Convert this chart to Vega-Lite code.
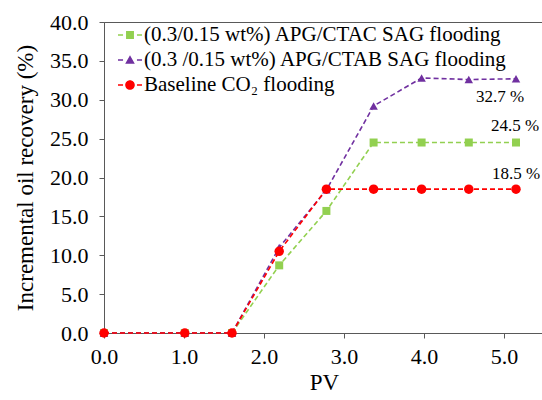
{
  "$schema": "https://vega.github.io/schema/vega-lite/v6.json",
  "width": 440,
  "height": 311,
  "autosize": {"type": "none"},
  "padding": {"left": 104, "top": 22, "right": 0, "bottom": 67},
  "config": {
    "font": "Liberation Serif",
    "view": {"stroke": "#595959", "strokeWidth": 1},
    "axis": {
      "grid": false,
      "domainColor": "#595959",
      "tickColor": "#595959",
      "labelColor": "#000000",
      "titleColor": "#000000",
      "labelFont": "Liberation Serif",
      "titleFont": "Liberation Serif",
      "labelFontSize": 22,
      "titleFontSize": 23,
      "titleFontWeight": "normal",
      "tickSize": 5,
      "labelFlush": false,
      "labelOverlap": false
    },
    "legend": {
      "labelFont": "Liberation Serif",
      "labelFontSize": 21,
      "labelColor": "#000000",
      "labelLimit": 0
    }
  },
  "data": {
    "values": [
      {"series": "(0.3/0.15 wt%) APG/CTAC SAG flooding", "pv": 0, "rec": 0},
      {"series": "(0.3/0.15 wt%) APG/CTAC SAG flooding", "pv": 1.01, "rec": 0},
      {"series": "(0.3/0.15 wt%) APG/CTAC SAG flooding", "pv": 1.6, "rec": 0},
      {"series": "(0.3/0.15 wt%) APG/CTAC SAG flooding", "pv": 2.19, "rec": 8.7},
      {"series": "(0.3/0.15 wt%) APG/CTAC SAG flooding", "pv": 2.78, "rec": 15.7},
      {"series": "(0.3/0.15 wt%) APG/CTAC SAG flooding", "pv": 3.37, "rec": 24.5},
      {"series": "(0.3/0.15 wt%) APG/CTAC SAG flooding", "pv": 3.97, "rec": 24.5},
      {"series": "(0.3/0.15 wt%) APG/CTAC SAG flooding", "pv": 4.56, "rec": 24.5},
      {"series": "(0.3/0.15 wt%) APG/CTAC SAG flooding", "pv": 5.15, "rec": 24.5},
      {"series": "(0.3 /0.15 wt%) APG/CTAB SAG flooding", "pv": 0, "rec": 0},
      {"series": "(0.3 /0.15 wt%) APG/CTAB SAG flooding", "pv": 1.01, "rec": 0},
      {"series": "(0.3 /0.15 wt%) APG/CTAB SAG flooding", "pv": 1.6, "rec": 0},
      {"series": "(0.3 /0.15 wt%) APG/CTAB SAG flooding", "pv": 2.19, "rec": 11.0},
      {"series": "(0.3 /0.15 wt%) APG/CTAB SAG flooding", "pv": 2.78, "rec": 18.4},
      {"series": "(0.3 /0.15 wt%) APG/CTAB SAG flooding", "pv": 3.37, "rec": 29.2},
      {"series": "(0.3 /0.15 wt%) APG/CTAB SAG flooding", "pv": 3.97, "rec": 32.8},
      {"series": "(0.3 /0.15 wt%) APG/CTAB SAG flooding", "pv": 4.56, "rec": 32.6},
      {"series": "(0.3 /0.15 wt%) APG/CTAB SAG flooding", "pv": 5.15, "rec": 32.7},
      {"series": "Baseline CO₂ flooding", "pv": 0, "rec": 0},
      {"series": "Baseline CO₂ flooding", "pv": 1.01, "rec": 0},
      {"series": "Baseline CO₂ flooding", "pv": 1.6, "rec": 0},
      {"series": "Baseline CO₂ flooding", "pv": 2.19, "rec": 10.5},
      {"series": "Baseline CO₂ flooding", "pv": 2.78, "rec": 18.5},
      {"series": "Baseline CO₂ flooding", "pv": 3.37, "rec": 18.5},
      {"series": "Baseline CO₂ flooding", "pv": 3.97, "rec": 18.5},
      {"series": "Baseline CO₂ flooding", "pv": 4.56, "rec": 18.5},
      {"series": "Baseline CO₂ flooding", "pv": 5.15, "rec": 18.5}
    ]
  },
  "encoding": {
    "x": {
      "field": "pv",
      "type": "quantitative",
      "scale": {"domain": [0, 5.5], "nice": false, "zero": false},
      "axis": {"title": "PV", "values": [0, 1, 2, 3, 4, 5], "format": ".1f", "labelPadding": 8, "titlePadding": 4}
    },
    "y": {
      "field": "rec",
      "type": "quantitative",
      "scale": {"domain": [0, 40], "nice": false},
      "axis": {"title": "Incremental oil recovery (%)", "values": [0, 5, 10, 15, 20, 25, 30, 35, 40], "format": ".1f", "labelPadding": 11, "titlePadding": 12}
    },
    "color": {
      "field": "series",
      "type": "nominal",
      "scale": {
        "domain": ["(0.3/0.15 wt%) APG/CTAC SAG flooding", "(0.3 /0.15 wt%) APG/CTAB SAG flooding", "Baseline CO₂ flooding"],
        "range": ["#92D050", "#7030A0", "#FF0000"]
      },
      "legend": {
        "title": null,
        "orient": "none",
        "legendX": 14,
        "legendY": 1,
        "symbolSize": 576,
        "rowPadding": 3,
        "labelOffset": 2,
        "padding": 0,
        "labelLimit": 0,
        "encode": {
          "symbols": {
            "update": {
              "shape": {"signal": "indexof(datum.value, 'CTAC') >= 0 ? 'M-1,-0.07H-0.58V0.07H-1Z M-0.33,-0.33H0.33V0.33H-0.33Z M0.58,-0.07H1V0.07H0.58Z' : indexof(datum.value, 'CTAB') >= 0 ? 'M-1,-0.07H-0.58V0.07H-1Z M0,-0.4L0.4,0.32H-0.4Z M0.58,-0.07H1V0.07H0.58Z' : 'M-1,-0.07H-0.58V0.07H-1Z M-0.4,0A0.4,0.4,0,1,1,0.4,0A0.4,0.4,0,1,1,-0.4,0Z M0.58,-0.07H1V0.07H0.58Z'"},
              "fill": {"signal": "scale('color', datum.value)"},
              "stroke": {"value": "transparent"},
              "strokeWidth": {"value": 0},
              "opacity": {"value": 1},
              "fillOpacity": {"value": 1},
              "size": {"value": 576}
            }
          }
        }
      }
    }
  },
  "layer": [
    {
      "mark": {"type": "line", "strokeDash": [5, 3], "strokeWidth": 1.6}
    },
    {
      "transform": [{"filter": "indexof(datum.series, 'CTAC') >= 0"}],
      "mark": {"type": "point", "filled": true, "opacity": 1, "shape": "square", "size": 64}
    },
    {
      "transform": [{"filter": "indexof(datum.series, 'CTAB') >= 0"}],
      "mark": {"type": "point", "filled": true, "opacity": 1, "shape": "triangle-up", "size": 72}
    },
    {
      "transform": [{"filter": "indexof(datum.series, 'Baseline') >= 0"}],
      "mark": {"type": "point", "filled": true, "opacity": 1, "shape": "circle", "size": 90}
    },
    {
      "transform": [{"filter": "indexof(datum.series, 'CTAB') >= 0 && datum.pv > 5"}],
      "mark": {"type": "text", "font": "Liberation Serif", "fontSize": 17, "dx": -16, "dy": 18, "align": "center", "baseline": "middle"},
      "encoding": {"text": {"value": "32.7 %"}, "color": {"value": "#000000"}}
    },
    {
      "transform": [{"filter": "indexof(datum.series, 'CTAC') >= 0 && datum.pv > 5"}],
      "mark": {"type": "text", "font": "Liberation Serif", "fontSize": 17, "dx": -1, "dy": -17, "align": "center", "baseline": "middle"},
      "encoding": {"text": {"value": "24.5 %"}, "color": {"value": "#000000"}}
    },
    {
      "transform": [{"filter": "indexof(datum.series, 'Baseline') >= 0 && datum.pv > 5"}],
      "mark": {"type": "text", "font": "Liberation Serif", "fontSize": 17, "dx": 0, "dy": -15, "align": "center", "baseline": "middle"},
      "encoding": {"text": {"value": "18.5 %"}, "color": {"value": "#000000"}}
    }
  ]
}
